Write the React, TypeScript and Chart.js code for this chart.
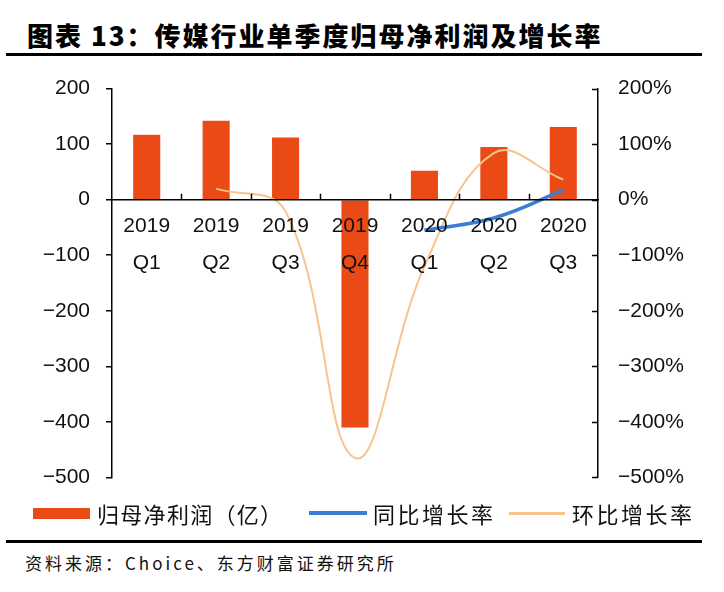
import React, { useEffect, useRef } from 'react';
import { Chart, registerables } from 'chart.js';

Chart.register(...registerables);

const categories: string[][] = [
  ['2019', 'Q1'], ['2019', 'Q2'], ['2019', 'Q3'], ['2019', 'Q4'],
  ['2020', 'Q1'], ['2020', 'Q2'], ['2020', 'Q3'],
];
const netProfit = [117, 142, 112, -410, 52, 95, 131];
const yoyGrowth: (number | null)[] = [null, null, null, null, -55, -33, 17];
const qoqGrowth: (number | null)[] = [null, 20, -21, -465, -120, 84, 36];
const axisMin = -500;
const axisMax = 200;
const axisStep = 100;

const titleText = '图表 13：传媒行业单季度归母净利润及增长率';
const legendProfit = '归母净利润（亿）';
const legendYoy = '同比增长率';
const legendQoq = '环比增长率';
const sourceText = '资料来源：Choice、东方财富证券研究所';

const BAR_COLOR = '#EA4A15';
const BLUE = '#3A7FD5';
const ORANGE = '#F7C48C';
const CJK = '"Noto Sans CJK SC", sans-serif';

const CANVAS_TOP = 56;
const CANVAS_H = 454;

const fmt = (v: number) => (v < 0 ? '\u2212' + Math.abs(v) : String(v));

const axisTicks = {
  id: 'axisTicks',
  afterDraw(chart: any) {
    const { ctx, scales } = chart;
    const x = scales.x, y = scales.y, y1 = scales.y1;
    const y0 = y.getPixelForValue(0);
    ctx.save();
    ctx.strokeStyle = '#000';
    ctx.lineWidth = 1.5;
    ctx.beginPath();
    for (let i = 0; i < categories.length - 1; i++) {
      const px = Math.round((x.getPixelForValue(i) + x.getPixelForValue(i + 1)) / 2) + 0.5;
      ctx.moveTo(px, y0);
      ctx.lineTo(px, y0 - 6);
    }
    y1.ticks.forEach((t: any) => {
      const py = Math.round(y1.getPixelForValue(t.value)) + 0.5;
      ctx.moveTo(y1.left, py);
      ctx.lineTo(y1.left - 6, py);
    });
    ctx.stroke();
    ctx.restore();
  },
};

export default function App() {
  const ref = useRef<HTMLCanvasElement | null>(null);

  useEffect(() => {
    if (!ref.current) return;
    const chart = new Chart(ref.current, {
      type: 'bar',
      data: {
        labels: categories,
        datasets: [
          {
            type: 'line',
            label: legendYoy,
            data: yoyGrowth,
            yAxisID: 'y1',
            borderColor: BLUE,
            borderWidth: 3.5,
            pointRadius: 0,
            tension: 0.4,
            fill: false,
            order: 0,
          } as any,
          {
            type: 'line',
            label: legendQoq,
            data: qoqGrowth,
            yAxisID: 'y1',
            borderColor: ORANGE,
            borderWidth: 2,
            pointRadius: 0,
            tension: 0.4,
            fill: false,
            order: 1,
          } as any,
          {
            type: 'bar',
            label: legendProfit,
            data: netProfit,
            yAxisID: 'y',
            backgroundColor: BAR_COLOR,
            borderWidth: 0,
            barPercentage: 0.39,
            categoryPercentage: 1,
            order: 2,
          },
        ],
      },
      options: {
        animation: false,
        responsive: false,
        devicePixelRatio: 1,
        layout: { padding: { top: 18, bottom: 15, left: 0, right: 0 } },
        plugins: {
          legend: { display: false },
          tooltip: { enabled: false },
          title: { display: false },
        },
        scales: {
          x: {
            position: { y: 0 } as any,
            offset: true,
            grid: { display: false, drawTicks: false },
            border: { display: true, color: '#000', width: 1.5, z: 1 } as any,
            ticks: {
              z: 1,
              color: '#111',
              font: { family: '"Liberation Sans", Arial, sans-serif', size: 21, lineHeight: 1.75 },
              padding: 8,
              maxRotation: 0,
              autoSkip: false,
            },
          },
          y: {
            position: 'left',
            min: axisMin,
            max: axisMax,
            afterFit: (s: any) => { s.width = 112; },
            grid: { display: true, drawOnChartArea: false, drawTicks: true, tickLength: 6, color: '#000', lineWidth: 1.5 },
            border: { display: true, color: '#000', width: 1.5 },
            ticks: {
              stepSize: axisStep,
              color: '#111',
              padding: 16,
              font: { family: '"Liberation Sans", Arial, sans-serif', size: 21 },
              callback: (v: any) => fmt(Number(v)),
            },
          },
          y1: {
            position: 'right',
            min: axisMin,
            max: axisMax,
            afterFit: (s: any) => { s.width = 126; },
            grid: { display: false, drawTicks: false },
            border: { display: true, color: '#000', width: 1.5 },
            ticks: {
              stepSize: axisStep,
              color: '#111',
              padding: 20,
              font: { family: '"Liberation Sans", Arial, sans-serif', size: 21 },
              callback: (v: any) => fmt(Number(v)) + '%',
            },
          },
        },
      },
      plugins: [axisTicks],
    });
    return () => chart.destroy();
  }, []);

  const abs = (s: React.CSSProperties): React.CSSProperties => ({ position: 'absolute', ...s });

  return (
    <div style={abs({ left: 0, top: 0, width: 724, height: 592, background: '#fff', overflow: 'hidden' })}>
      <div style={abs({ left: 27, top: 21, fontFamily: CJK, fontWeight: 900, fontSize: 26, lineHeight: '28px', letterSpacing: 2, color: '#000', whiteSpace: 'nowrap' })}>
        {titleText}
      </div>
      <div style={abs({ left: 6, top: 53, width: 696, height: 3, background: '#000' })} />
      <div style={abs({ left: 0, top: CANVAS_TOP, width: 724, height: CANVAS_H })}>
        <canvas ref={ref} width={724} height={CANVAS_H} style={{ width: 724, height: CANVAS_H, display: 'block' }} />
      </div>
      <div style={abs({ left: 33, top: 508, width: 57, height: 11, background: BAR_COLOR })} />
      <div style={abs({ left: 97, top: 501, fontFamily: CJK, fontSize: 22, lineHeight: '24px', letterSpacing: 1.3, color: '#111', whiteSpace: 'nowrap' })}>
        {legendProfit}
      </div>
      <div style={abs({ left: 309, top: 511, width: 58, height: 4, background: BLUE })} />
      <div style={abs({ left: 373, top: 501, fontFamily: CJK, fontSize: 22, lineHeight: '24px', letterSpacing: 2.5, color: '#111', whiteSpace: 'nowrap' })}>
        {legendYoy}
      </div>
      <div style={abs({ left: 509, top: 512, width: 56, height: 3, background: ORANGE })} />
      <div style={abs({ left: 572, top: 501, fontFamily: CJK, fontSize: 22, lineHeight: '24px', letterSpacing: 2.5, color: '#111', whiteSpace: 'nowrap' })}>
        {legendQoq}
      </div>
      <div style={abs({ left: 6, top: 540, width: 696, height: 3, background: '#000' })} />
      <div style={abs({ left: 25, top: 553, fontFamily: CJK, fontSize: 17, lineHeight: '20px', letterSpacing: 3, color: '#111', whiteSpace: 'nowrap' })}>
        {sourceText}
      </div>
    </div>
  );
}
